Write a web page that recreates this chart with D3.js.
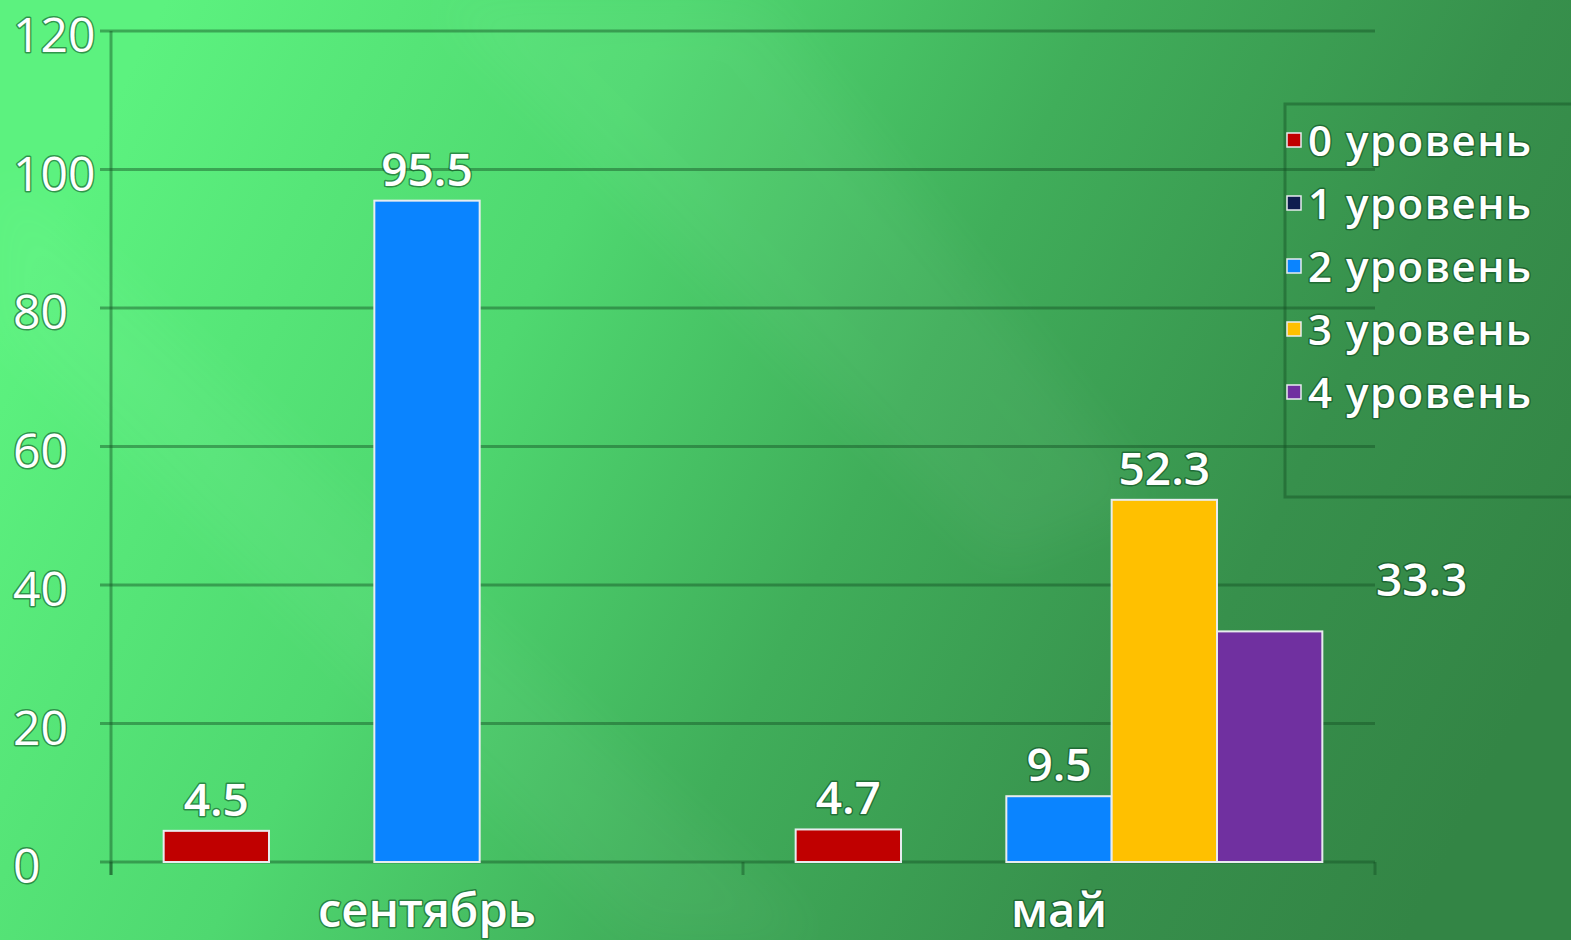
<!DOCTYPE html>
<html>
<head>
<meta charset="utf-8" />
<title>уровни</title>
<script src="https://cdnjs.cloudflare.com/ajax/libs/d3/7.8.5/d3.min.js"></script>
<style>
html, body { margin: 0; padding: 0; overflow: hidden; }
text { font-family: "Open Sans", "DejaVu Sans", sans-serif; fill: #fff; paint-order: stroke; stroke: rgba(10,70,30,0.55); stroke-width: 3px; stroke-linejoin: round; }
</style>
</head>
<body>
<svg id="chart" width="1571" height="940"></svg>
<script>
// data
const months = ["сентябрь", "май"];
const levels = ["0 уровень", "1 уровень", "2 уровень", "3 уровень", "4 уровень"];
const september = [4.5, 0, 95.5, 0, 0];
const may = [4.7, 0, 9.5, 52.3, 33.3];
const yTicks = [0, 20, 40, 60, 80, 100, 120];
const colors = ["#c00000", "#0f1d4f", "#0a84ff", "#ffc000", "#7030a0"];

const values = { "сентябрь": september, "май": may };

const W = 1571, H = 940;
const plotLeft = 111, plotRight = 1375, plotTop = 31, plotBottom = 862;

let svg = d3.select("#chart");

// background
let defs = svg.append("defs");
let bg = defs.append("linearGradient").attr("id", "bg")
	.attr("x1", "0").attr("y1", "0.35").attr("x2", "1").attr("y2", "0.65");
bg.append("stop").attr("offset", "0").attr("stop-color", "#5cf27f");
bg.append("stop").attr("offset", "0.3").attr("stop-color", "#4fd870");
bg.append("stop").attr("offset", "0.55").attr("stop-color", "#40ae5a");
bg.append("stop").attr("offset", "0.8").attr("stop-color", "#37904c");
bg.append("stop").attr("offset", "1").attr("stop-color", "#338545");
svg.append("rect").attr("width", W).attr("height", H).attr("fill", "url(#bg)");

// faint diagonal streaks
let blur = defs.append("filter").attr("id", "soft").attr("x", "-20%").attr("y", "-20%").attr("width", "140%").attr("height", "140%");
blur.append("feGaussianBlur").attr("stdDeviation", 25);
svg.append("polygon").attr("points", "430,0 760,0 1150,500 1000,560")
	.attr("fill", "#ffffff").attr("opacity", 0.035).attr("filter", "url(#soft)");
svg.append("polygon").attr("points", "0,170 0,330 640,940 820,940")
	.attr("fill", "#ffffff").attr("opacity", 0.03).attr("filter", "url(#soft)");

// scales
let y = d3.scaleLinear().domain([0, 120]).range([plotBottom, plotTop]);
let x0 = d3.scaleBand().domain(months).range([plotLeft, plotRight]).padding(0);
let x1 = d3.scaleBand().domain(levels).range([0, x0.bandwidth()]).paddingInner(0).paddingOuter(0.5);

const lineColor = "rgba(20,80,35,0.45)";

// grid lines
svg.append("g").selectAll("line").data(yTicks).enter().append("line")
	.attr("x1", plotLeft - 11).attr("x2", plotRight)
	.attr("y1", d => y(d)).attr("y2", d => y(d))
	.attr("stroke", lineColor).attr("stroke-width", 3);

// axes lines
svg.append("line").attr("x1", plotLeft).attr("x2", plotLeft).attr("y1", plotTop).attr("y2", plotBottom + 13)
	.attr("stroke", lineColor).attr("stroke-width", 3);
svg.append("g").selectAll("line").data([plotLeft, x0("май"), plotRight]).enter().append("line")
	.attr("x1", d => d).attr("x2", d => d).attr("y1", plotBottom).attr("y2", plotBottom + 13)
	.attr("stroke", lineColor).attr("stroke-width", 3);

// y labels
svg.append("g").selectAll("text").data(yTicks).enter().append("text")
	.attr("x", 13).attr("y", d => y(d)).attr("dy", "0.44em")
	.attr("font-size", 48)
	.text(d => d);

// bars
let groups = svg.append("g").selectAll("g").data(months).enter().append("g")
	.attr("transform", d => "translate(" + x0(d) + ",0)");

groups.selectAll("rect")
	.data(m => levels.map((l, i) => ({ month: m, level: l, i: i, v: values[m][i] })))
	.enter().append("rect")
	.attr("x", d => x1(d.level))
	.attr("y", d => y(d.v))
	.attr("width", x1.bandwidth())
	.attr("height", d => y(0) - y(d.v))
	.attr("fill", d => colors[d.i])
	.attr("stroke", "#e8ecef").attr("stroke-width", 2);

// value labels (the 33.3 label sits off to the side in the original)
const nudge = { "май|4 уровень": [152, -20] };
groups.selectAll("text")
	.data(m => levels.map((l, i) => ({ month: m, level: l, i: i, v: values[m][i] })).filter(d => d.v > 0))
	.enter().append("text")
	.attr("x", d => x1(d.level) + x1.bandwidth() / 2 + (nudge[d.month + "|" + d.level] || [0, 0])[0])
	.attr("y", d => y(d.v) - 15 + (nudge[d.month + "|" + d.level] || [0, 0])[1])
	.attr("text-anchor", "middle")
	.attr("font-size", 46)
	.attr("font-weight", 600)
	.text(d => d.v);

// category labels
svg.append("g").selectAll("text").data(months).enter().append("text")
	.attr("x", d => x0(d) + x0.bandwidth() / 2)
	.attr("y", 927)
	.attr("text-anchor", "middle")
	.attr("font-size", 47)
	.attr("font-weight", 600)
	.text(d => d);

// legend
svg.append("rect").attr("x", 1285).attr("y", 104).attr("width", 320).attr("height", 393)
	.attr("fill", "none").attr("stroke", lineColor).attr("stroke-width", 3);

let legend = svg.append("g").selectAll("g").data(levels).enter().append("g")
	.attr("transform", (d, i) => "translate(1287," + (141 + i * 63) + ")");
legend.append("rect")
	.attr("x", 0).attr("y", -8).attr("width", 14).attr("height", 14)
	.attr("fill", (d, i) => colors[i])
	.attr("stroke", "#e8ecef").attr("stroke-width", 1.5);
legend.append("text")
	.attr("x", 21).attr("y", 15)
	.attr("font-size", 42)
	.attr("font-weight", 600)
	.attr("letter-spacing", 1.5)
	.text(d => d);
</script>
</body>
</html>
